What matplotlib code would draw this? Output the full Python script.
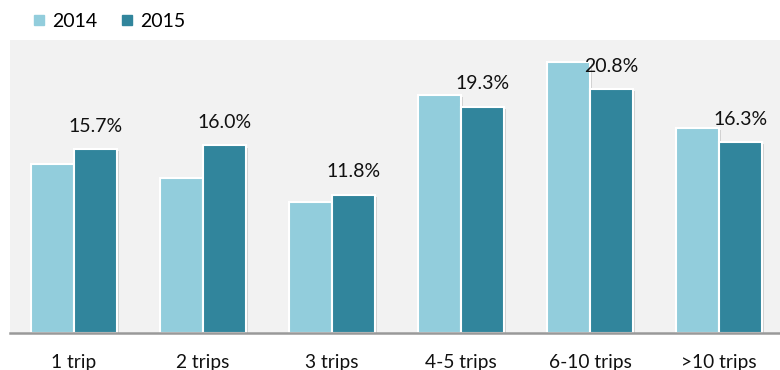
import numpy as np
import matplotlib.pyplot as plt
from matplotlib.lines import Line2D
import matplotlib.patheffects as pe

categories = ['1 trip', '2 trips', '3 trips', '4-5 trips', '6-10 trips', '>10 trips']
vals_2014 = [14.4, 13.2, 11.2, 20.3, 23.1, 17.5]
vals_2015 = [15.7, 16.0, 11.8, 19.3, 20.8, 16.3]
labels_2015 = ['15.7%', '16.0%', '11.8%', '19.3%', '20.8%', '16.3%']

c14 = '#92CDDC'
c15 = '#31859C'

plt.rcParams['font.family'] = ['Lato', 'DejaVu Sans']

fig = plt.figure(figsize=(7.8, 3.7), dpi=100)
ax = fig.add_axes([10/780, 37/370, 770/780, 293/370])
ax.set_facecolor('#f2f2f2')

x = np.arange(len(categories))
w = 0.333
shadow = [pe.SimplePatchShadow(offset=(1.5, -1.5), shadow_rgbFace='#bbbbbb', alpha=0.6), pe.Normal()]
b1 = ax.bar(x - w/2, vals_2014, w, color=c14, edgecolor='white', linewidth=1.5, zorder=3)
b2 = ax.bar(x + w/2, vals_2015, w, color=c15, edgecolor='white', linewidth=1.5, zorder=3)
for b in list(b1) + list(b2):
    b.set_path_effects(shadow)

for xi, v, lab in zip(x, vals_2015, labels_2015):
    ax.annotate(lab, (xi + w/2, v), xytext=(0, 16.5), textcoords='offset points',
                ha='center', va='center', fontsize=14, color='#111111')

ax.set_xlim(-0.496, 5.473)
ax.set_ylim(0, 25)
ax.set_yticks([])
ax.set_xticks(x)
ax.set_xticklabels(categories, fontsize=13.8, color='#111111')
ax.tick_params(axis='x', length=0, pad=15)
for s in ['top', 'right', 'left']:
    ax.spines[s].set_visible(False)
ax.spines['bottom'].set_color('#999999')
ax.spines['bottom'].set_linewidth(1.8)
ax.spines['bottom'].set_zorder(4)

handles = [Line2D([], [], marker='s', linestyle='', markersize=7, color=c14),
           Line2D([], [], marker='s', linestyle='', markersize=7, color=c15)]
fig.legend(handles, ['2014', '2015'], loc='upper left', bbox_to_anchor=(0.015, 1.012),
           ncol=2, frameon=False, fontsize=14, handletextpad=0.2, columnspacing=1.0,
           handlelength=1.0)

plt.savefig('out.png', dpi=100)
